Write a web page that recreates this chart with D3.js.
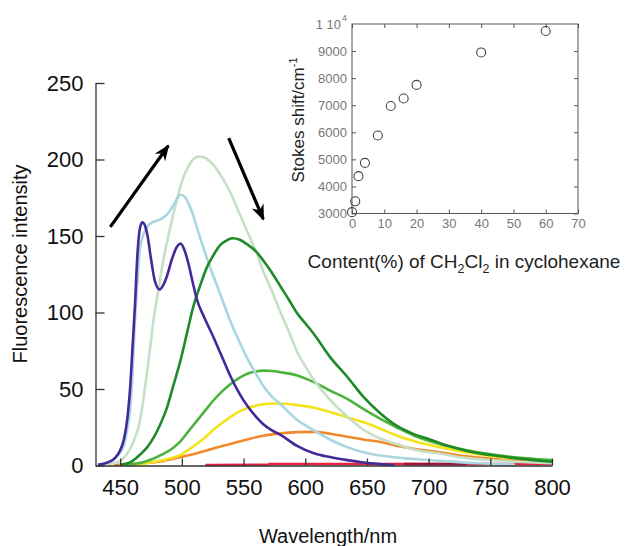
<!DOCTYPE html>
<html>
<head>
<meta charset="utf-8">
<script src="https://cdn.jsdelivr.net/npm/d3@7"></script>
<style>
  html, body { margin: 0; padding: 0; background: #fff; }
  svg { display: block; font-family: "Liberation Sans", Arial, sans-serif; }
</style>
</head>
<body>
<svg id="chart" width="626" height="546"></svg>
<script>
// ---------------- DATA ----------------
const xTicks = [450, 500, 550, 600, 650, 700, 750, 800];
const yTicks = [0, 50, 100, 150, 200, 250];

// [wavelength nm, intensity]
const sPurple = [[432,0.5],[440,2],[446,5],[450,10],[453,17],[456,32],[458,50],[460,77],[462,105],[464,138],[466,155],[468,159],[470,157],[472,151],[475,135],[478,121],[482,115],[485,118],[488,124],[492,135],[496,143],[499,145],[502,141],[505,133],[509,119],[512,109],[518,97],[525,85],[532,72],[539,59],[546,48],[553,39],[560,32],[566,27],[573,23],[580,20],[593,13],[607,8],[620,5.5],[634,3.5],[647,2],[660,1],[672,0.3]];
const sLightBlue = [[432,0.5],[440,2],[447,6],[452,11],[456,25],[458,36],[460,60],[462,95],[464,120],[466,142],[469,151],[472,156],[476,159],[480,160],[485,162],[489,165],[493,170],[496,174],[499,177],[502,176],[505,172],[509,164],[512,156],[518,141],[525,125],[532,110],[539,95],[546,82],[553,70],[560,60],[566,52],[573,45],[580,40],[593,30],[607,23],[620,17],[634,12],[647,8.7],[661,6.5],[688,4.2],[709,3],[740,1.5],[770,0.6]];
const sPaleGreen = [[438,0.5],[450,3],[455,7],[460,14],[466,29],[470,50],[474,75],[477,95],[481,115],[485,134],[489,150],[493,164],[497,177],[501,188],[505,195],[509,200],[514,202],[519,201],[525,197],[532,189],[539,179],[546,166],[553,153],[560,140],[566,127],[573,114],[580,100],[587,87],[593,75],[600,65],[607,56],[620,43],[634,32],[647,23.5],[661,17.5],[674,14],[688,10.5],[709,7.8],[730,5],[760,3],[800,1.5]];
const sDarkGreen = [[450,0.5],[458,2],[466,7],[472,12],[477,18],[482,26],[488,38],[493,52],[499,69],[504,86],[509,103],[515,118],[520,129],[526,138],[531,144],[536,147],[541,148.5],[547,147.5],[553,144.5],[560,140],[566,134],[573,126],[580,117],[587,108],[593,100],[600,93],[607,86],[620,71],[634,58],[647,45],[661,34],[674,26],[688,20.5],[701,17],[715,13],[731,9.5],[758,6],[800,2.5]];
const sMidGreen = [[455,0.5],[470,2.5],[485,7.6],[492,11],[499,16],[505,22],[512,29],[519,36],[525,42],[532,48],[539,53],[546,57],[553,60],[560,61.5],[566,62],[573,61.8],[580,61],[593,59],[607,54.5],[620,49],[634,43.6],[647,37],[661,30.5],[674,25],[688,19.6],[709,14],[731,10],[758,6.5],[800,3.5]];
const sYellow = [[460,0.3],[475,2],[490,4.5],[499,7],[505,10],[512,14],[519,18.5],[525,23],[532,27.5],[539,31.5],[546,35],[553,37.5],[560,39],[566,40],[573,40.5],[580,40.5],[593,39.5],[607,37.8],[620,35],[634,31.6],[647,28.4],[661,24],[674,19.6],[688,16],[709,12],[731,8.5],[758,5.5],[800,3.2]];
const sOrange = [[445,0.3],[460,1],[485,3],[499,5.5],[512,8],[525,11],[539,14],[553,17],[566,19.5],[580,21],[593,21.8],[607,22],[620,20.8],[634,18.8],[647,17],[661,15.3],[674,13],[688,11],[709,8.7],[731,6],[758,4],[800,2.3]];
const sRed = [[519,0.3],[570,0.5],[571,1],[800,1]];
const sDarkRed = [[680,1],[730,1]];

const seriesOrder = [sRed, sDarkRed, sOrange, sYellow, sMidGreen, sPaleGreen, sLightBlue, sDarkGreen, sPurple];
const seriesColors = ["#e4243f", "#9c1238", "#f0892a", "#f2e31a", "#4cb43c", "#c6dfc6", "#a9d6e0", "#1f8a28", "#43299a"];

// arrows, in data coordinates [nm, intensity]
const arrowUp = [[442,156],[489,209]];
const arrowDown = [[538,214],[566,161]];

// inset data
const insetX = [0, 1, 2, 4, 8, 12, 16, 20, 40, 60];
const insetY = [3050, 3450, 4380, 4870, 5880, 6970, 7250, 7750, 8950, 9740];
const insetXTicks = [0, 10, 20, 30, 40, 50, 60, 70];
const insetYTicks = [3000, 4000, 5000, 6000, 7000, 8000, 9000];

// ---------------- DRAW ----------------
const svg = d3.select("#chart");

const x = d3.scaleLinear().domain([430, 800]).range([95.5, 552]);
const y = d3.scaleLinear().domain([0, 250]).range([465.5, 83]);

// curves
const line = d3.line().x(d => x(d[0])).y(d => y(d[1])).curve(d3.curveMonotoneX);
const gCurves = svg.append("g");
seriesOrder.forEach((s, i) => {
  gCurves.append("path")
    .attr("d", line(s))
    .attr("fill", "none")
    .attr("stroke", seriesColors[i])
    .attr("stroke-width", 2.6)
    .attr("stroke-linejoin", "round");
});

// axes
const xAxis = d3.axisBottom(x).tickValues(xTicks).tickSizeInner(-7).tickSizeOuter(0).tickPadding(14);
const gx = svg.append("g").attr("transform", `translate(0,${y(0)})`).call(xAxis);
gx.select(".domain").attr("stroke", "#333").attr("stroke-width", 1.3);
gx.selectAll(".tick line").attr("stroke", "#333").attr("stroke-width", 1.3);
gx.selectAll(".tick text").attr("font-size", 22).attr("fill", "#111")
  .attr("font-family", "Liberation Sans, Arial, sans-serif");

const yAxis = d3.axisLeft(y).tickValues(yTicks).tickSizeInner(-9).tickSizeOuter(0).tickPadding(12);
const gy = svg.append("g").attr("transform", `translate(${x(430)},0)`).call(yAxis);
gy.select(".domain").attr("stroke", "#333").attr("stroke-width", 1.3);
gy.selectAll(".tick line").attr("stroke", "#333").attr("stroke-width", 1.3);
gy.selectAll(".tick text").attr("font-size", 22).attr("fill", "#111")
  .attr("font-family", "Liberation Sans, Arial, sans-serif");

// axis titles
svg.append("text").attr("x", 328).attr("y", 543).attr("text-anchor", "middle")
  .attr("font-size", 20).attr("fill", "#111").text("Wavelength/nm");
svg.append("text").attr("transform", "translate(27,264) rotate(-90)").attr("text-anchor", "middle")
  .attr("font-size", 20).attr("fill", "#111").text("Fluorescence intensity");

// arrows
const defs = svg.append("defs");
defs.append("marker").attr("id", "ah").attr("viewBox", "0 0 10 10")
  .attr("refX", 9).attr("refY", 5).attr("markerWidth", 5).attr("markerHeight", 5)
  .attr("orient", "auto").attr("markerUnits", "strokeWidth")
  .append("path").attr("d", "M0,1 L10,5 L0,9 L3,5 Z").attr("fill", "#000");
[arrowUp, arrowDown].forEach(a => {
  svg.append("line")
    .attr("x1", x(a[0][0])).attr("y1", y(a[0][1]))
    .attr("x2", x(a[1][0])).attr("y2", y(a[1][1]))
    .attr("stroke", "#000").attr("stroke-width", 3.2)
    .attr("marker-end", "url(#ah)");
});

// ---------------- INSET ----------------
const ix = d3.scaleLinear().domain([0, 70]).range([352, 578]);
const iy = d3.scaleLinear().domain([3000, 10000]).range([213.5, 24]);
const gi = svg.append("g");
gi.append("rect").attr("x", ix(0)).attr("y", iy(10000))
  .attr("width", ix(70) - ix(0)).attr("height", iy(3000) - iy(10000))
  .attr("fill", "none").attr("stroke", "#555").attr("stroke-width", 1);

const ixAxis = d3.axisBottom(ix).tickValues(insetXTicks).tickSizeInner(-4).tickSizeOuter(0).tickPadding(5);
const gix = gi.append("g").attr("transform", `translate(0,${iy(3000)})`).call(ixAxis);
gix.select(".domain").remove();
gix.selectAll(".tick line").attr("stroke", "#555");
gix.selectAll(".tick text").attr("font-size", 13).attr("fill", "#777");

const ixTop = d3.axisTop(ix).tickValues(insetXTicks).tickSizeInner(-4).tickSizeOuter(0).tickFormat("");
const gixt = gi.append("g").attr("transform", `translate(0,${iy(10000)})`).call(ixTop);
gixt.select(".domain").remove();
gixt.selectAll(".tick line").attr("stroke", "#555");

const iyAxis = d3.axisLeft(iy).tickValues(insetYTicks).tickFormat(d3.format("d"))
  .tickSizeInner(-4).tickSizeOuter(0).tickPadding(5);
const giy = gi.append("g").attr("transform", `translate(${ix(0)},0)`).call(iyAxis);
giy.select(".domain").remove();
giy.selectAll(".tick line").attr("stroke", "#555");
giy.selectAll(".tick text").attr("font-size", 13).attr("fill", "#777");

const iyRight = d3.axisRight(iy).tickValues(insetYTicks).tickSizeInner(-4).tickSizeOuter(0).tickFormat("");
const giyr = gi.append("g").attr("transform", `translate(${ix(70)},0)`).call(iyRight);
giyr.select(".domain").remove();
giyr.selectAll(".tick line").attr("stroke", "#555");

// 1 10^4 label
gi.append("text").attr("x", ix(0) - 11).attr("y", iy(10000) + 4.5)
  .attr("text-anchor", "end").attr("font-size", 13).attr("fill", "#777").text("1 10");
gi.append("text").attr("x", ix(0) - 10).attr("y", iy(10000) - 3)
  .attr("font-size", 9).attr("fill", "#777").text("4");

// points
gi.selectAll("circle").data(insetX.map((v, i) => [v, insetY[i]])).join("circle")
  .attr("cx", d => ix(d[0])).attr("cy", d => iy(d[1])).attr("r", 4.5)
  .attr("fill", "none").attr("stroke", "#444").attr("stroke-width", 1.1);

// inset titles
const iyl = gi.append("text").attr("transform", "translate(304,120) rotate(-90)")
  .attr("text-anchor", "middle").attr("font-size", 17).attr("fill", "#222");
iyl.append("tspan").text("Stokes shift/cm");
iyl.append("tspan").attr("font-size", 11).attr("dy", -7).text("-1");

const ixl = gi.append("text").attr("x", 464).attr("y", 268)
  .attr("text-anchor", "middle").attr("font-size", 19).attr("fill", "#222");
ixl.append("tspan").text("Content(%) of CH");
ixl.append("tspan").attr("font-size", 12.5).attr("dy", 5).text("2");
ixl.append("tspan").attr("dy", -5).text("Cl");
ixl.append("tspan").attr("font-size", 12.5).attr("dy", 5).text("2");
ixl.append("tspan").attr("dy", -5).text(" in cyclohexane");
</script>
</body>
</html>
